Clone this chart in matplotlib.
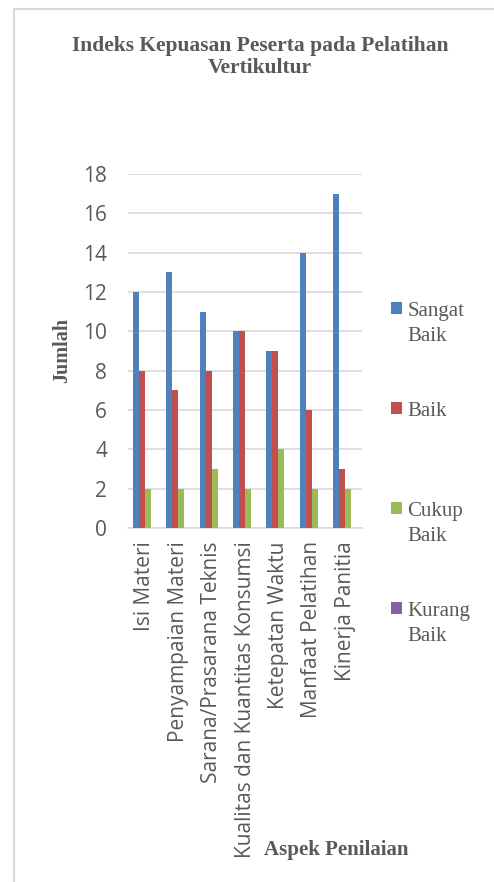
import numpy as np
import matplotlib.pyplot as plt
from matplotlib.patches import Rectangle

aspects = ['Isi Materi', 'Penyampaian Materi', 'Sarana/Prasarana Teknis',
           'Kualitas dan Kuantitas Konsumsi', 'Ketepatan Waktu',
           'Manfaat Pelatihan', 'Kinerja Panitia']
sangat_baik = [12, 13, 11, 10, 9, 14, 17]
baik = [8, 7, 8, 10, 9, 6, 3]
cukup_baik = [2, 2, 3, 2, 4, 2, 2]
kurang_baik = [0, 0, 0, 0, 0, 0, 0]
series_names = ['Sangat\nBaik', 'Baik', 'Cukup\nBaik', 'Kurang\nBaik']
colors = ['#4F81BD', '#C0504D', '#9BBB59', '#8064A2']
yticks = [0, 2, 4, 6, 8, 10, 12, 14, 16, 18]

grey = '#595959'
W, H = 494, 882
fig = plt.figure(figsize=(W / 100, H / 100), dpi=100)

# frame around the chart (only left and top edges visible)
fig.patches.append(Rectangle((14 / W, -0.1), 1.2, (H - 9) / H + 0.1, transform=fig.transFigure,
                             fill=False, edgecolor='#D9D9D9', linewidth=1.5))

ax = fig.add_axes([128 / W, 1 - 528 / H, 234 / W, 354 / H])
x = np.arange(len(aspects))
bw = 0.18
data = [sangat_baik, baik, cukup_baik, kurang_baik]
for i, vals in enumerate(data):
    # pad one-line names to two lines so every legend entry has the same height
    lbl = series_names[i] if '\n' in series_names[i] else series_names[i] + '\n'
    ax.bar(x + (i - 1.5) * bw, vals, width=bw, color=colors[i], label=lbl, zorder=3)

ax.set_xlim(-0.5, len(aspects) - 0.5)
ax.set_ylim(0, 18)
ax.set_yticks(yticks)
ax.yaxis.grid(True, color='#D9D9D9', linewidth=1.2, zorder=0)
ax.set_axisbelow(True)
for s in ['top', 'right', 'left']:
    ax.spines[s].set_visible(False)
ax.spines['bottom'].set_color('#D9D9D9')
ax.spines['bottom'].set_linewidth(1.2)
ax.tick_params(axis='both', length=0, colors=grey, labelsize=15)
ax.set_xticks(x)
ax.set_xticklabels(aspects, rotation=90, va='top', ha='center')
for lab in ax.get_xticklabels() + ax.get_yticklabels():
    lab.set_family('Open Sans')
    lab.set_color(grey)
ax.tick_params(axis='y', pad=15)
ax.tick_params(axis='x', pad=9.5)

fig.text(260 / W, 1 - 57 / H, 'Indeks Kepuasan Peserta pada Pelatihan\nVertikultur',
         ha='center', va='center', family='Liberation Serif', weight='bold',
         fontsize=15.5, color=grey, linespacing=1.1)
fig.text(62 / W, 1 - 350 / H, 'Jumlah', rotation=90, ha='center', va='center',
         family='Liberation Serif', weight='bold', fontsize=14.5, color=grey)
fig.text(336 / W, 1 - 850 / H, 'Aspek Penilaian', ha='center', va='center',
         family='Liberation Serif', weight='bold', fontsize=15, color=grey)

leg = ax.legend(loc='upper left', bbox_to_anchor=(391 / W, 1 - 302 / H),
                bbox_transform=fig.transFigure, frameon=False,
                prop={'family': 'Liberation Serif', 'size': 15},
                handlelength=0.53, handleheight=0.53, handletextpad=0.25,
                labelspacing=2.69, borderpad=0, borderaxespad=0)
for t in leg.get_texts():
    t.set_color(grey)
    t.set_linespacing(1.42)
# put the colour square next to the first line of each entry
for col in leg._legend_handle_box.get_children():
    for item in col.get_children():
        item.align = 'top'

fig.savefig('out.png', dpi=100)
